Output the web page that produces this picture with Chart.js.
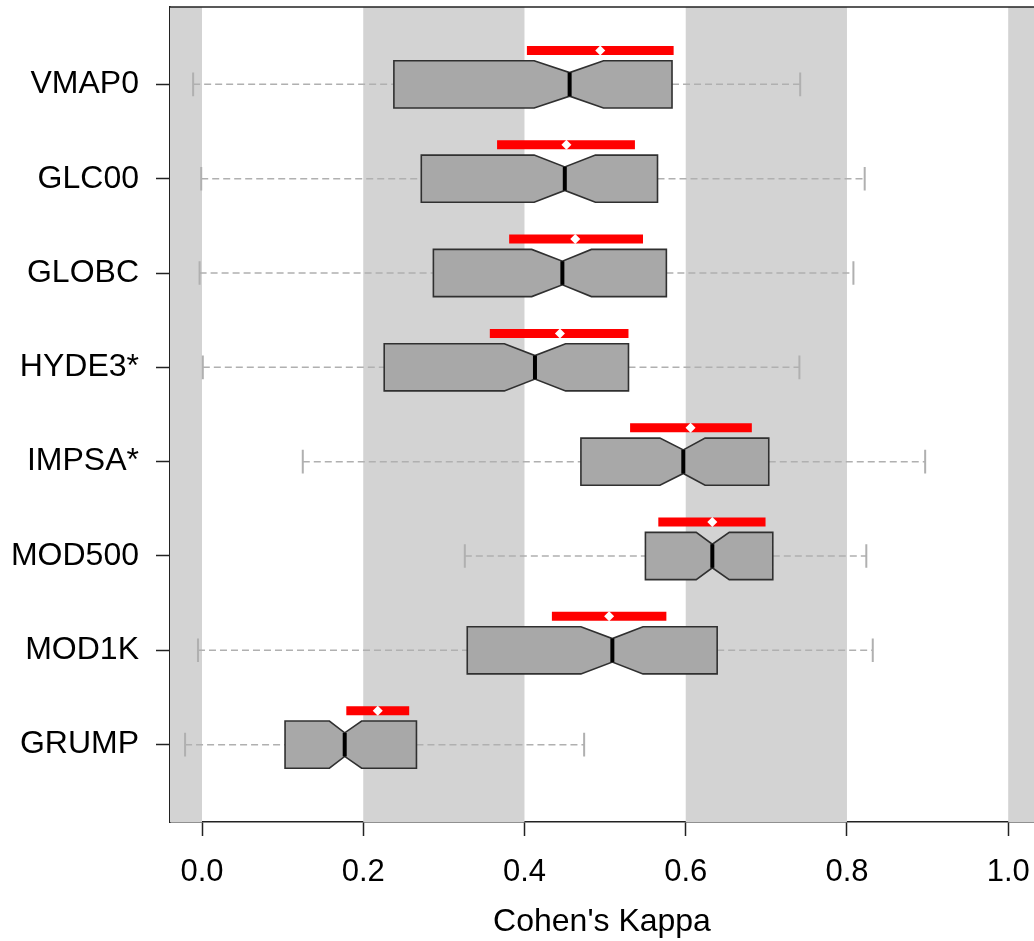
<!DOCTYPE html>
<html>
<head>
<meta charset="utf-8">
<script src="https://cdn.jsdelivr.net/npm/chart.js@4/dist/chart.umd.min.js"></script>
<style>
  html, body { margin: 0; padding: 0; background: #fff; }
  canvas { display: block; }
</style>
</head>
<body>
<canvas id="kappaChart" width="1034" height="941"></canvas>
<script>
// products, listed top to bottom as in the figure
const products = ['VMAP0', 'GLC00', 'GLOBC', 'HYDE3*', 'IMPSA*', 'MOD500', 'MOD1K', 'GRUMP'];

// box statistics (Cohen's Kappa)
const whiskerLow  = [-0.011, -0.001, -0.003, 0.001, 0.125, 0.326, -0.005, -0.021];
const quart1      = [0.238, 0.272, 0.287, 0.226, 0.470, 0.550, 0.329, 0.103];
const notchLow    = [0.412, 0.412, 0.409, 0.375, 0.568, 0.613, 0.470, 0.158];
const medians     = [0.456, 0.450, 0.447, 0.413, 0.597, 0.633, 0.509, 0.177];
const notchHigh   = [0.498, 0.488, 0.483, 0.451, 0.624, 0.654, 0.547, 0.198];
const quart3      = [0.583, 0.565, 0.576, 0.529, 0.703, 0.708, 0.639, 0.266];
const whiskerHigh = [0.742, 0.822, 0.808, 0.741, 0.897, 0.824, 0.832, 0.474];

// red interval bars and the white mean marks above each box
const ciLow  = [0.403, 0.366, 0.381, 0.357, 0.531, 0.566, 0.434, 0.179];
const ciHigh = [0.585, 0.537, 0.547, 0.529, 0.682, 0.699, 0.576, 0.257];
const means  = [0.494, 0.452, 0.463, 0.444, 0.606, 0.633, 0.505, 0.218];

const xTicks = [0.0, 0.2, 0.4, 0.6, 0.8, 1.0];
const shadedBands = [-0.2, 0.2, 0.6, 1.0]; // each band is 0.2 wide

const n = products.length;
const rowY = i => n - i;        // VMAP0 at top
const BOX_HALF = 0.25;
const CI_OFFSET = 0.36;

// red bars as broken line segments
const ciPoints = [];
products.forEach((p, i) => {
    ciPoints.push({x: ciLow[i], y: rowY(i) + CI_OFFSET});
    ciPoints.push({x: ciHigh[i], y: rowY(i) + CI_OFFSET});
    ciPoints.push({x: null, y: null});
});
const meanPoints = means.map((m, i) => ({x: m, y: rowY(i) + CI_OFFSET}));

const boxPlugin = {
    id: 'boxPlugin',
    beforeDatasetsDraw(chart) {
        const ctx = chart.ctx;
        const xs = chart.scales.x, ys = chart.scales.y;
        const area = chart.chartArea;
        ctx.save();
        ctx.beginPath();
        ctx.rect(area.left, area.top, area.right - area.left, area.bottom - area.top);
        ctx.clip();

        // grey bands
        ctx.fillStyle = '#d3d3d3';
        shadedBands.forEach(b => {
            const x0 = xs.getPixelForValue(b), x1 = xs.getPixelForValue(b + 0.2);
            ctx.fillRect(x0, area.top, x1 - x0, area.bottom - area.top);
        });

        products.forEach((p, i) => {
            const yc = ys.getPixelForValue(rowY(i));
            const yt = ys.getPixelForValue(rowY(i) + BOX_HALF);
            const yb = ys.getPixelForValue(rowY(i) - BOX_HALF);
            const ynt = ys.getPixelForValue(rowY(i) + BOX_HALF / 2);
            const ynb = ys.getPixelForValue(rowY(i) - BOX_HALF / 2);
            const px = v => xs.getPixelForValue(v);

            // whiskers
            ctx.strokeStyle = '#b0b0b0';
            ctx.lineWidth = 1.5;
            ctx.setLineDash([7, 4]);
            ctx.beginPath();
            ctx.moveTo(px(whiskerLow[i]), yc); ctx.lineTo(px(quart1[i]), yc);
            ctx.moveTo(px(quart3[i]), yc); ctx.lineTo(px(whiskerHigh[i]), yc);
            ctx.stroke();
            ctx.setLineDash([]);
            ctx.lineWidth = 2;
            ctx.beginPath();
            ctx.moveTo(px(whiskerLow[i]), ynt); ctx.lineTo(px(whiskerLow[i]), ynb);
            ctx.moveTo(px(whiskerHigh[i]), ynt); ctx.lineTo(px(whiskerHigh[i]), ynb);
            ctx.stroke();

            // notched box
            ctx.beginPath();
            ctx.moveTo(px(quart1[i]), yt);
            ctx.lineTo(px(notchLow[i]), yt);
            ctx.lineTo(px(medians[i]), ynt);
            ctx.lineTo(px(notchHigh[i]), yt);
            ctx.lineTo(px(quart3[i]), yt);
            ctx.lineTo(px(quart3[i]), yb);
            ctx.lineTo(px(notchHigh[i]), yb);
            ctx.lineTo(px(medians[i]), ynb);
            ctx.lineTo(px(notchLow[i]), yb);
            ctx.lineTo(px(quart1[i]), yb);
            ctx.closePath();
            ctx.fillStyle = '#a8a8a8';
            ctx.fill();
            ctx.strokeStyle = '#303030';
            ctx.lineWidth = 1.6;
            ctx.stroke();

            // median
            ctx.strokeStyle = '#000';
            ctx.lineWidth = 4;
            ctx.beginPath();
            ctx.moveTo(px(medians[i]), ynt);
            ctx.lineTo(px(medians[i]), ynb);
            ctx.stroke();
        });
        ctx.restore();
    },
    afterDraw(chart) {
        const ctx = chart.ctx, area = chart.chartArea;
        ctx.save();
        ctx.strokeStyle = '#222';
        ctx.lineWidth = 1.5;
        ctx.beginPath();
        ctx.moveTo(area.left, area.top);
        ctx.lineTo(area.right, area.top);
        ctx.stroke();
        ctx.restore();
    }
};

const ctx = document.getElementById('kappaChart');
const kappaChart = new Chart(ctx, {
    type: 'scatter',
    data: {
        datasets: [{
            label: 'interval',
            data: ciPoints,
            showLine: true,
            spanGaps: false,
            borderColor: '#ff0000',
            borderWidth: 9,
            borderCapStyle: 'butt',
            pointRadius: 0,
            order: 2
        }, {
            label: 'mean',
            data: meanPoints,
            pointStyle: 'rectRot',
            pointRadius: 5,
            backgroundColor: '#ffffff',
            borderWidth: 0,
            order: 1
        }]
    },
    options: {
        responsive: false,
        animation: false,
        devicePixelRatio: 1,
        layout: { autoPadding: false, padding: { top: 7, left: 0, right: 0, bottom: 0 } },
        plugins: { legend: { display: false }, tooltip: { enabled: false } },
        scales: {
            x: {
                type: 'linear',
                min: -0.0397,
                max: 1.032,
                afterBuildTicks: s => { s.ticks = xTicks.map(v => ({value: v})); },
                afterFit: s => { s.height = 119; s.paddingLeft = 0; s.paddingRight = 0; },
                ticks: {
                    color: '#000',
                    font: { family: 'Liberation Sans', size: 31 },
                    padding: 18,
                    maxRotation: 0,
                    callback: v => v.toFixed(1)
                },
                grid: { drawOnChartArea: false, drawTicks: true, tickLength: 14, tickColor: '#222', tickWidth: 1.5 },
                border: { display: true, color: '#222', width: 1.5 },
                title: {
                    display: true,
                    text: "Cohen's Kappa",
                    color: '#000',
                    font: { family: 'Liberation Sans', size: 32 },
                    padding: { top: 10, bottom: 0 }
                }
            },
            y: {
                type: 'linear',
                min: 0.18,
                max: 8.82,
                afterBuildTicks: s => { s.ticks = products.map((p, i) => ({value: rowY(i)})); },
                afterFit: s => { s.width = 170; s.paddingTop = 0; s.paddingBottom = 0; },
                ticks: {
                    color: '#000',
                    font: { family: 'Liberation Sans', size: 32 },
                    padding: 17,
                    callback: v => products[n - v]
                },
                grid: { drawOnChartArea: false, drawTicks: true, tickLength: 14, tickColor: '#222', tickWidth: 1.5 },
                border: { display: true, color: '#222', width: 1.5 }
            }
        }
    },
    plugins: [boxPlugin]
});
</script>
</body>
</html>
